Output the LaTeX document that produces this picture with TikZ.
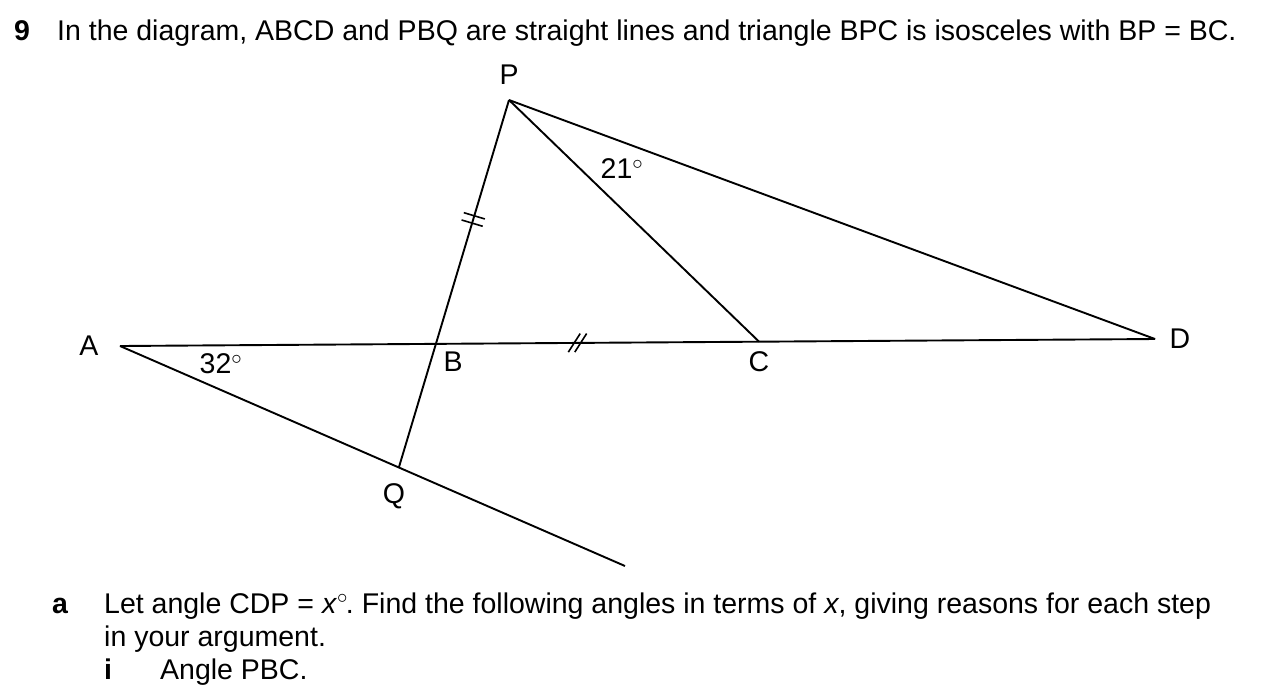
\documentclass[tikz,border=0pt]{standalone}
\usepackage{fontspec}
\setmainfont{Liberation Sans}
\usetikzlibrary{calc}
\frenchspacing
\begin{document}
\begin{tikzpicture}[x=1pt,y=-1pt,
  geo/.style={line width=1.9pt},
  tick/.style={line width=1.6pt},
  lbl/.style={inner sep=0pt,font=\fontsize{28.5}{33}\selectfont},
  txt/.style={inner sep=0pt,anchor=base west,font=\fontsize{28.5}{33}\selectfont}]
\useasboundingbox (0,0) rectangle (1276,689);
% points
\coordinate (P) at (509,100);
\coordinate (A) at (120,346);
\coordinate (D) at (1155,339);
\coordinate (B) at (436,343.8);
\coordinate (C) at (759,341.6);
\coordinate (Q) at (399,467);
\coordinate (E) at (625,566);
% lines
\draw[geo] (A) -- (D);
\draw[geo] (A) -- (E);
\draw[geo] (P) -- (Q);
\draw[geo] (P) -- (C);
\draw[geo] (P) -- (D);
% tick marks on PB
\path (P) -- (B) coordinate[pos=0.475] (t1) coordinate[pos=0.505] (t2);
\draw[tick] ($(t1)!11pt!90:(P)$) -- ($(t1)!11pt!-90:(P)$);
\draw[tick] ($(t2)!11pt!90:(P)$) -- ($(t2)!11pt!-90:(P)$);
% tick marks on BC
\path (B) -- (C) coordinate[pos=0.428] (u1) coordinate[pos=0.448] (u2);
\draw[tick] ($(u1)!11pt!57:(C)$) -- ($(u1)!11pt!-123:(C)$);
\draw[tick] ($(u2)!11pt!57:(C)$) -- ($(u2)!11pt!-123:(C)$);
% labels
\node[lbl] (lP) at (509,75) {P};
\node[lbl] (lA) at (89,346) {A};
\node[lbl] (lD) at (1180,339) {D};
\node[lbl] (lB) at (453,362) {B};
\node[lbl] (lC) at (759,362) {C};
\node[lbl] (lQ) at (394,496) {Q};
\node[lbl] (a32) at (221,364) {32$^\circ$};
\node[lbl] (a21) at (622,169) {21$^\circ$};
% text
\node[txt,font=\fontsize{28.5}{33}\selectfont\bfseries] (n9) at (14,40) {9};
\node[txt] (t0) at (57,40) {In the diagram, ABCD and PBQ are straight lines and triangle BPC is isosceles with BP = BC.};
\node[txt,font=\fontsize{28.5}{33}\selectfont\bfseries] (na) at (52,613) {a};
\node[txt] (ta1) at (104,613) {Let angle CDP = \textit{x}$^\circ$\kern-2pt. Find the following angles in terms of \textit{x}, giving reasons for each step};
\node[txt] (ta2) at (104,646) {in your argument.};
\node[txt,font=\fontsize{28.5}{33}\selectfont\bfseries] (ni) at (104,679) {i};
\node[txt] (ti) at (160,679) {Angle PBC.};
\end{tikzpicture}
\end{document}
